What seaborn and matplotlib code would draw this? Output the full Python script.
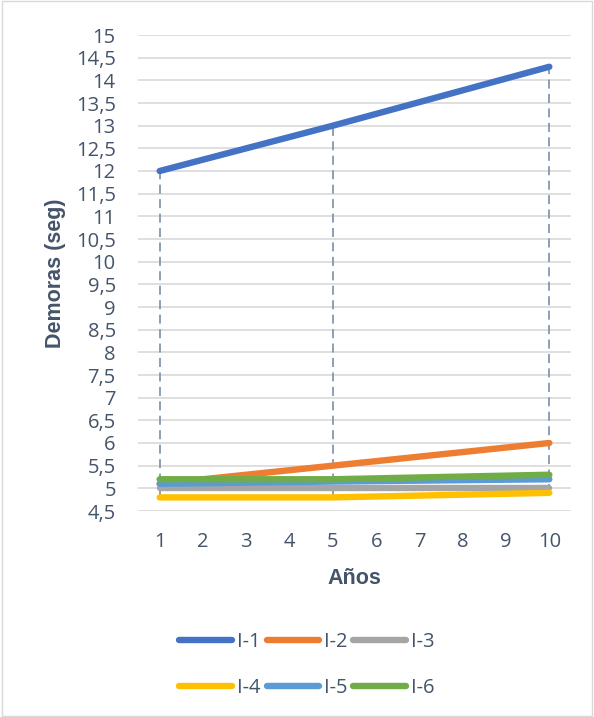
import pandas as pd
import seaborn as sns
import matplotlib.pyplot as plt
from matplotlib.ticker import FuncFormatter

years = [1, 5, 10]
series_names = ["I-1", "I-2", "I-3", "I-4", "I-5", "I-6"]
i1 = [12.0, 13.0, 14.3]
i2 = [5.1, 5.5, 6.0]
i3 = [5.0, 5.0, 5.0]
i4 = [4.8, 4.8, 4.9]
i5 = [5.1, 5.15, 5.2]
i6 = [5.2, 5.2, 5.3]
year_ticks = list(range(1, 11))

colors = ["#4472C4", "#ED7D31", "#A5A5A5", "#FFC000", "#5B9BD5", "#70AD47"]
txt = "#44546A"

rows = []
for name, vals in zip(series_names, [i1, i2, i3, i4, i5, i6]):
    for x, v in zip(years, vals):
        rows.append({"Años": x, "Demoras": v, "Serie": name})
df = pd.DataFrame(rows)

sns.set_style("white")
plt.rcParams["font.family"] = ["Open Sans", "DejaVu Sans"]

fig = plt.figure(figsize=(5.94, 7.17), dpi=100)
ax = fig.add_axes([138 / 594, 1 - 511 / 717, (571 - 138) / 594, (511 - 35) / 717])

# drop lines (max to min at each point)
wide = df.pivot(index="Años", columns="Serie", values="Demoras")
ax.vlines(wide.index, wide.min(axis=1), wide.max(axis=1), colors="#8497B0",
          linestyles=(0, (5, 3)), linewidth=1.3, zorder=2)

sns.lineplot(data=df, x="Años", y="Demoras", hue="Serie", palette=colors,
             linewidth=4.6, ax=ax, legend=False, zorder=3,
             solid_capstyle="round")

ax.set_xlim(0.5, 10.5)
ax.set_ylim(4.5, 15)
ax.set_xticks(year_ticks)
ax.set_yticks([4.5 + 0.5 * i for i in range(22)])
ax.yaxis.set_major_formatter(FuncFormatter(lambda v, p: f"{v:g}".replace(".", ",")))
ax.grid(axis="y", color="#D9D9D9", linewidth=1.2)
ax.grid(axis="x", visible=False)
for s in ax.spines.values():
    s.set_visible(False)
ax.tick_params(axis="both", length=0, labelsize=14.5, colors=txt)
ax.tick_params(axis="x", pad=15)
ax.tick_params(axis="y", pad=16)
ax.set_xlabel("Años", fontsize=15.5, fontweight="bold", color=txt,
              family="Liberation Sans", labelpad=12)
ax.set_ylabel("Demoras (seg)", fontsize=15.5, fontweight="bold", color=txt,
              family="Liberation Sans", labelpad=7)

handles = [plt.Line2D([], [], color=c, linewidth=4.6, solid_capstyle="round") for c in colors]
order = [0, 3, 1, 4, 2, 5]
fig.legend([handles[i] for i in order], [series_names[i] for i in order],
           ncol=3, loc="center", bbox_to_anchor=(307 / 594, 1 - 665 / 717),
           frameon=False, fontsize=14.5, labelcolor=txt, handlelength=2.6,
           handletextpad=0.25, columnspacing=0.3, labelspacing=1.25)

fig.add_artist(plt.Rectangle((0.003, 0.002), 0.994, 0.996, transform=fig.transFigure,
                             fill=False, edgecolor="#D9D9D9", linewidth=1))

fig.savefig("out.png", dpi=100)
